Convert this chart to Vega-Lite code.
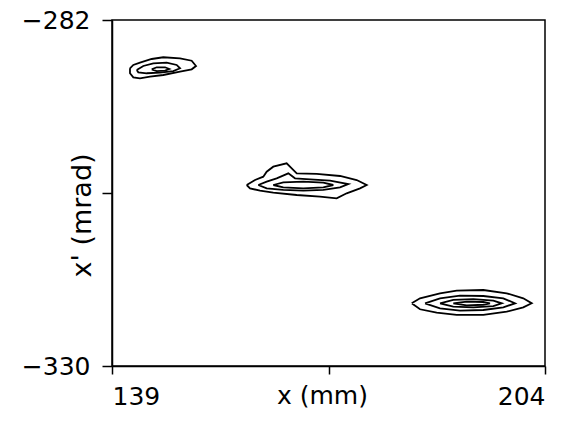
{
  "$schema": "https://vega.github.io/schema/vega-lite/v6.json",
  "width": 433,
  "height": 346,
  "autosize": {"type": "none"},
  "padding": {"left": 112, "top": 20, "right": 32, "bottom": 56},
  "background": "white",
  "config": {
    "view": {"stroke": "black", "strokeWidth": 1.5},
    "font": "DejaVu Sans",
    "axis": {"grid": false, "domainColor": "black", "domainWidth": 1.5, "tickColor": "black", "tickWidth": 1.5, "labelColor": "black", "titleColor": "black", "labelFont": "DejaVu Sans", "titleFont": "DejaVu Sans", "labelFontSize": 25, "titleFontSize": 25, "labelFontWeight": "normal", "titleFontWeight": "normal"}
  },
  "data": {"values": [
    {"c":1,"i":0,"x":141.70,"y":-288.70},{"c":1,"i":1,"x":142.20,"y":-288.24},{"c":1,"i":2,"x":143.20,"y":-287.92},{"c":1,"i":3,"x":144.96,"y":-287.41},{"c":1,"i":4,"x":146.70,"y":-287.17},{"c":1,"i":5,"x":149.21,"y":-287.31},{"c":1,"i":6,"x":150.96,"y":-287.65},{"c":1,"i":7,"x":151.61,"y":-288.38},{"c":1,"i":8,"x":150.96,"y":-288.84},{"c":1,"i":9,"x":149.21,"y":-289.17},{"c":1,"i":10,"x":146.70,"y":-289.63},{"c":1,"i":11,"x":144.70,"y":-289.87},{"c":1,"i":12,"x":143.20,"y":-290.09},{"c":1,"i":13,"x":142.20,"y":-289.95},{"c":1,"i":14,"x":141.70,"y":-289.39},{"c":1,"i":15,"x":141.70,"y":-288.70},
    {"c":2,"i":0,"x":142.71,"y":-288.94},{"c":2,"i":1,"x":143.70,"y":-288.38},{"c":2,"i":2,"x":145.20,"y":-288.01},{"c":2,"i":3,"x":147.21,"y":-287.92},{"c":2,"i":4,"x":148.71,"y":-288.24},{"c":2,"i":5,"x":149.21,"y":-288.70},{"c":2,"i":6,"x":148.20,"y":-289.08},{"c":2,"i":7,"x":146.21,"y":-289.31},{"c":2,"i":8,"x":144.21,"y":-289.39},{"c":2,"i":9,"x":142.95,"y":-289.26},{"c":2,"i":10,"x":142.71,"y":-288.94},
    {"c":3,"i":0,"x":144.96,"y":-288.84},{"c":3,"i":1,"x":145.71,"y":-288.56},{"c":3,"i":2,"x":146.96,"y":-288.56},{"c":3,"i":3,"x":147.60,"y":-288.80},{"c":3,"i":4,"x":146.96,"y":-289.03},{"c":3,"i":5,"x":145.71,"y":-289.08},{"c":3,"i":6,"x":144.96,"y":-288.84},
    {"c":4,"i":0,"x":159.22,"y":-304.89},{"c":4,"i":1,"x":160.47,"y":-304.20},{"c":4,"i":2,"x":161.71,"y":-303.74},{"c":4,"i":3,"x":162.22,"y":-303.04},{"c":4,"i":4,"x":163.21,"y":-302.35},{"c":4,"i":5,"x":165.22,"y":-301.88},{"c":4,"i":6,"x":165.98,"y":-302.57},{"c":4,"i":7,"x":166.73,"y":-303.27},{"c":4,"i":8,"x":169.73,"y":-303.36},{"c":4,"i":9,"x":173.23,"y":-303.64},{"c":4,"i":10,"x":175.73,"y":-304.20},{"c":4,"i":11,"x":177.23,"y":-304.89},{"c":4,"i":12,"x":176.23,"y":-305.35},{"c":4,"i":13,"x":174.23,"y":-306.04},{"c":4,"i":14,"x":172.73,"y":-306.74},{"c":4,"i":15,"x":170.22,"y":-306.51},{"c":4,"i":16,"x":166.73,"y":-306.28},{"c":4,"i":17,"x":163.21,"y":-305.96},{"c":4,"i":18,"x":161.22,"y":-305.68},{"c":4,"i":19,"x":159.72,"y":-305.35},{"c":4,"i":20,"x":159.22,"y":-304.89},
    {"c":5,"i":0,"x":160.96,"y":-304.89},{"c":5,"i":1,"x":162.22,"y":-304.43},{"c":5,"i":2,"x":163.72,"y":-303.96},{"c":5,"i":3,"x":165.47,"y":-303.27},{"c":5,"i":4,"x":166.47,"y":-303.96},{"c":5,"i":5,"x":168.72,"y":-304.10},{"c":5,"i":6,"x":171.73,"y":-304.29},{"c":5,"i":7,"x":174.47,"y":-304.75},{"c":5,"i":8,"x":173.23,"y":-305.21},{"c":5,"i":9,"x":170.72,"y":-305.58},{"c":5,"i":10,"x":167.72,"y":-305.68},{"c":5,"i":11,"x":164.71,"y":-305.58},{"c":5,"i":12,"x":162.22,"y":-305.35},{"c":5,"i":13,"x":160.96,"y":-304.89},
    {"c":6,"i":0,"x":163.21,"y":-304.89},{"c":6,"i":1,"x":164.71,"y":-304.52},{"c":6,"i":2,"x":167.72,"y":-304.43},{"c":6,"i":3,"x":170.72,"y":-304.57},{"c":6,"i":4,"x":172.22,"y":-304.89},{"c":6,"i":5,"x":170.72,"y":-305.21},{"c":6,"i":6,"x":167.72,"y":-305.35},{"c":6,"i":7,"x":164.71,"y":-305.21},{"c":6,"i":8,"x":163.21,"y":-304.89},
    {"c":7,"i":0,"x":183.99,"y":-321.30},{"c":7,"i":1,"x":185.24,"y":-320.61},{"c":7,"i":2,"x":188.24,"y":-319.91},{"c":7,"i":3,"x":190.74,"y":-319.55},{"c":7,"i":4,"x":194.74,"y":-319.46},{"c":7,"i":5,"x":198.25,"y":-319.91},{"c":7,"i":6,"x":200.74,"y":-320.61},{"c":7,"i":7,"x":202.00,"y":-321.30},{"c":7,"i":8,"x":200.74,"y":-321.86},{"c":7,"i":9,"x":198.25,"y":-322.47},{"c":7,"i":10,"x":194.74,"y":-322.92},{"c":7,"i":11,"x":190.74,"y":-322.92},{"c":7,"i":12,"x":187.74,"y":-322.61},{"c":7,"i":13,"x":185.24,"y":-322.13},{"c":7,"i":14,"x":183.99,"y":-321.30},
    {"c":8,"i":0,"x":185.99,"y":-321.30},{"c":8,"i":1,"x":188.24,"y":-320.61},{"c":8,"i":2,"x":191.24,"y":-320.25},{"c":8,"i":3,"x":194.74,"y":-320.29},{"c":8,"i":4,"x":197.74,"y":-320.61},{"c":8,"i":5,"x":199.50,"y":-321.30},{"c":8,"i":6,"x":197.74,"y":-321.86},{"c":8,"i":7,"x":194.74,"y":-322.23},{"c":8,"i":8,"x":191.24,"y":-322.33},{"c":8,"i":9,"x":188.24,"y":-322.00},{"c":8,"i":10,"x":185.99,"y":-321.30},
    {"c":9,"i":0,"x":188.24,"y":-321.30},{"c":9,"i":1,"x":190.23,"y":-320.84},{"c":9,"i":2,"x":193.24,"y":-320.71},{"c":9,"i":3,"x":196.24,"y":-320.94},{"c":9,"i":4,"x":197.50,"y":-321.30},{"c":9,"i":5,"x":196.24,"y":-321.68},{"c":9,"i":6,"x":193.24,"y":-321.86},{"c":9,"i":7,"x":190.23,"y":-321.77},{"c":9,"i":8,"x":188.24,"y":-321.30},
    {"c":10,"i":0,"x":190.23,"y":-321.30},{"c":10,"i":1,"x":192.25,"y":-321.08},{"c":10,"i":2,"x":194.74,"y":-321.12},{"c":10,"i":3,"x":195.74,"y":-321.30},{"c":10,"i":4,"x":194.74,"y":-321.50},{"c":10,"i":5,"x":192.25,"y":-321.58},{"c":10,"i":6,"x":190.23,"y":-321.30}
  ]},
  "mark": {"type": "line", "color": "black", "strokeWidth": 1.8, "clip": true},
  "encoding": {
    "x": {"field": "x", "type": "quantitative", "scale": {"domain": [139, 204], "nice": false, "zero": false},
      "axis": {"values": [139, 171.5, 204], "labelExpr": "datum.value == 171.5 ? '' : datum.label", "tickSize": 8, "labelPadding": 10, "labelBaseline": "top", "title": "x (mm)", "titleX": 210, "titleY": 17, "titleBaseline": "top", "titleAlign": "center"}},
    "y": {"field": "y", "type": "quantitative", "scale": {"domain": [-330, -282], "nice": false, "zero": false},
      "axis": {"values": [-330, -306, -282], "labelExpr": "datum.value == -306 ? '' : datum.label", "tickSize": 10, "labelPadding": 12, "labelBaseline": "middle", "title": "x' (mrad)", "titleFontSize": 27, "titleAngle": -90, "titleX": -30, "titleY": 195, "titleBaseline": "middle", "titleAlign": "center"}},
    "detail": {"field": "c", "type": "nominal"},
    "order": {"field": "i", "type": "quantitative"}
  }
}
